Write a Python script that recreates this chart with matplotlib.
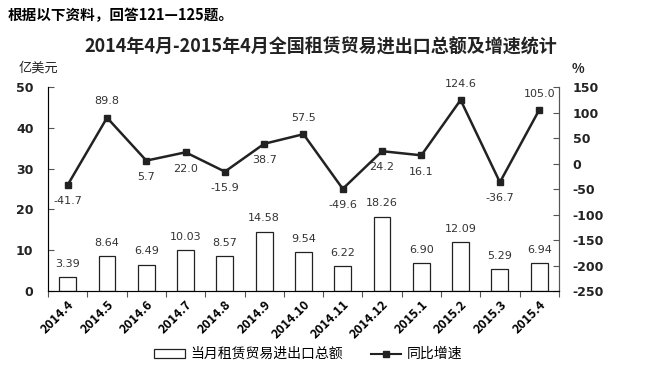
import matplotlib
matplotlib.use("Agg")
import matplotlib.pyplot as plt
from matplotlib.lines import Line2D
from matplotlib.patches import Patch

plt.rcParams['font.family'] = ['Noto Sans CJK SC', 'DejaVu Sans']
NUM = ['DejaVu Sans', 'Noto Sans CJK SC']

months = ["2014.4", "2014.5", "2014.6", "2014.7", "2014.8", "2014.9", "2014.10",
          "2014.11", "2014.12", "2015.1", "2015.2", "2015.3", "2015.4"]
amount = [3.39, 8.64, 6.49, 10.03, 8.57, 14.58, 9.54, 6.22, 18.26, 6.90, 12.09, 5.29, 6.94]
growth = [-41.7, 89.8, 5.7, 22.0, -15.9, 38.7, 57.5, -49.6, 24.2, 16.1, 124.6, -36.7, 105.0]
growth_above = [False, True, False, False, False, False, True, False, False, False, True, False, True]
left_ticks = [0, 10, 20, 30, 40, 50]
right_ticks = [-250, -200, -150, -100, -50, 0, 50, 100, 150]

fig = plt.figure(figsize=(6.59, 3.85), dpi=100)
ax = fig.add_axes([0.073, 0.244, 0.775, 0.53])
x = list(range(len(months)))
ax.bar(x, amount, width=0.43, color="white", edgecolor="#222222", linewidth=0.9, zorder=2)
for xi, v in zip(x, amount):
    ax.text(xi, v + 2.0, f"{v:.2f}", ha="center", va="bottom", fontsize=8,
            family=NUM, color="#333333")
ax.set_xlim(-0.5, len(months) - 0.5)
ax.set_ylim(0, 50)
ax.set_yticks(left_ticks)
ax.set_yticklabels([str(t) for t in left_ticks], fontsize=9, fontweight="bold", family=NUM,
                   color="#222222")
ax.set_xticks([i + 0.5 for i in range(-1, len(months))], minor=False)
ax.set_xticklabels([])
ax.tick_params(axis="x", length=4, direction="out", width=0.8, color="#555555")
ax.set_xticks(x, minor=True)
ax.set_xticklabels(months, minor=True, rotation=45, ha="right", rotation_mode="anchor",
                   fontsize=9, fontweight="bold")
ax.tick_params(axis="x", which="minor", length=0, pad=5)
ax.tick_params(axis="y", length=4, direction="in", width=0.8, pad=10.5, color="#555555")
ax.spines["top"].set_visible(False)
for s in ["left", "bottom", "right"]:
    ax.spines[s].set_color("#555555")
    ax.spines[s].set_linewidth(0.8)

ax2 = ax.twinx()
ax2.plot(x, growth, color="#222222", linewidth=1.8, marker="s", markersize=5, zorder=3)
for xi, v, up in zip(x, growth, growth_above):
    if up:
        ax2.text(xi, v + 22, f"{v:.1f}", ha="center", va="bottom", fontsize=8,
                 family=NUM, color="#333333")
    else:
        ax2.text(xi, v - 22, f"{v:.1f}", ha="center", va="top", fontsize=8,
                 family=NUM, color="#333333")
ax2.set_ylim(-250, 150)
ax2.set_yticks(right_ticks)
ax2.set_yticklabels([str(t) for t in right_ticks], fontsize=9, fontweight="bold", family=NUM,
                    color="#222222")
ax2.tick_params(axis="y", length=4, direction="in", width=0.8, pad=10, color="#555555")
ax2.spines["top"].set_visible(False)
ax2.spines["right"].set_color("#555555")
ax2.spines["right"].set_linewidth(0.8)

fig.text(0.012, 0.96, "根据以下资料，回答121—125题。", fontsize=10.5, fontweight="bold", va="center")
fig.text(0.486, 0.878, "2014年4月-2015年4月全国租赁贸易进出口总额及增速统计", fontsize=13,
         fontweight="bold", ha="center", va="center", color="#222222")
fig.text(0.028, 0.822, "亿美元", fontsize=9.5, va="center", color="#222222")
fig.text(0.868, 0.822, "%", fontsize=9.5, fontweight="bold", va="center", color="#222222")

handles = [Patch(facecolor="white", edgecolor="#222222", linewidth=0.9),
           Line2D([0], [0], color="#222222", linewidth=1.5, marker="s", markersize=4)]
fig.legend(handles, ["当月租赁贸易进出口总额", "同比增速"], loc="center", bbox_to_anchor=(0.468, 0.08),
           ncol=2, frameon=False, fontsize=10, handlelength=2.2, handleheight=0.6, columnspacing=2.0,
           handletextpad=0.4)

fig.savefig("out.png", dpi=100)
